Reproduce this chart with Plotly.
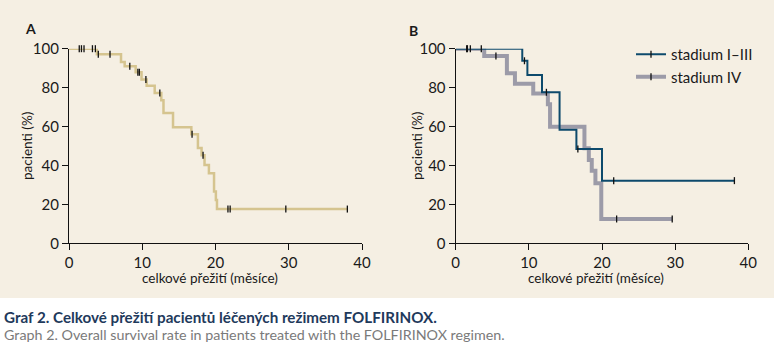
import plotly.graph_objects as go

# ---- Kaplan-Meier data (months, % surviving) ----
# Panel A: all patients
events_a_t = [3.8, 7.1, 7.6, 9.1, 9.9, 10.6, 11.7, 12.6, 12.9, 14.2, 16.7, 17.6, 18.1, 18.5, 19.1, 19.8, 20.05, 20.2]
events_a_s = [97.1, 93.2, 91.0, 87.9, 84.2, 81.0, 77.2, 73.5, 67.0, 59.6, 56.0, 49.0, 45.3, 40.3, 36.0, 26.6, 22.3, 17.6]
censor_a = [1.4, 1.7, 2.05, 3.2, 3.6, 4.0, 5.6, 8.3, 9.4, 9.6, 10.5, 12.4, 16.8, 18.3, 21.7, 22.0, 29.6, 38.0]
end_a = 38.0

# Panel B: stage I-III
events_b1_t = [9.1, 9.8, 11.8, 14.2, 16.5, 20.0]
events_b1_s = [93.8, 86.5, 77.6, 58.4, 48.5, 32.2]
censor_b1 = [1.5, 2.0, 9.4, 12.4, 16.7, 21.6, 38.1]
end_b1 = 38.1

# Panel B: stage IV
events_b2_t = [3.9, 7.0, 8.1, 10.6, 12.6, 12.9, 17.6, 18.2, 18.6, 19.1, 19.9]
events_b2_s = [96.2, 87.4, 82.0, 77.0, 71.4, 59.9, 48.8, 42.8, 37.3, 30.8, 12.5]
censor_b2 = [1.6, 3.5, 5.5, 22.0, 29.6]
end_b2 = 29.6

x_ticks = [0, 10, 20, 30, 40]
y_ticks = [0, 20, 40, 60, 80, 100]

BG = "#f5efe3"
TAN = "#d5c48f"
BLUE = "#0d4a6c"
GRAY = "#9c9ba8"
FONT = "Lato"
INK = "#1a1a1a"

W, H = 774, 344


def step_xy(times, surv, end):
    xs = [0] + list(times) + [end]
    ys = [100] + list(surv) + [surv[-1]]
    return xs, ys


def surv_at(t, times, surv):
    s = 100
    for ti, si in zip(times, surv):
        if ti <= t:
            s = si
    return s


def px_x(p):
    return p / W


def px_y(p):
    return 1 - p / H


tick_marker = dict(symbol="line-ns", size=5, line=dict(color="#111", width=1.3))

fig = go.Figure()

# panel A curve
xa, ya = step_xy(events_a_t, events_a_s, end_a)
fig.add_trace(go.Scatter(x=xa, y=ya, mode="lines", line=dict(color=TAN, width=2.5, shape="hv"),
                         xaxis="x", yaxis="y", showlegend=False, cliponaxis=False, hoverinfo="skip"))
fig.add_trace(go.Scatter(x=censor_a, y=[surv_at(t, events_a_t, events_a_s) for t in censor_a],
                         mode="markers", marker=tick_marker,
                         xaxis="x", yaxis="y", showlegend=False, cliponaxis=False, hoverinfo="skip"))

# panel B curves (stage IV first so stage I-III lies on top)
xb2, yb2 = step_xy(events_b2_t, events_b2_s, end_b2)
fig.add_trace(go.Scatter(x=xb2, y=yb2, mode="lines", line=dict(color=GRAY, width=4, shape="hv"),
                         xaxis="x2", yaxis="y2", showlegend=False, cliponaxis=False, hoverinfo="skip"))
xb1, yb1 = step_xy(events_b1_t, events_b1_s, end_b1)
fig.add_trace(go.Scatter(x=xb1, y=yb1, mode="lines", line=dict(color=BLUE, width=2, shape="hv"),
                         xaxis="x2", yaxis="y2", showlegend=False, cliponaxis=False, hoverinfo="skip"))
fig.add_trace(go.Scatter(x=censor_b2, y=[surv_at(t, events_b2_t, events_b2_s) for t in censor_b2],
                         mode="markers", marker=tick_marker,
                         xaxis="x2", yaxis="y2", showlegend=False, cliponaxis=False, hoverinfo="skip"))
fig.add_trace(go.Scatter(x=censor_b1, y=[surv_at(t, events_b1_t, events_b1_s) for t in censor_b1],
                         mode="markers", marker=tick_marker,
                         xaxis="x2", yaxis="y2", showlegend=False, cliponaxis=False, hoverinfo="skip"))

# legend entries
fig.add_trace(go.Scatter(x=[None], y=[None], mode="lines+markers", name="stadium I\u2013III",
                         line=dict(color=BLUE, width=2), marker=tick_marker,
                         xaxis="x2", yaxis="y2"))
fig.add_trace(go.Scatter(x=[None], y=[None], mode="lines+markers", name="stadium IV",
                         line=dict(color=GRAY, width=4), marker=tick_marker,
                         xaxis="x2", yaxis="y2"))

axis_common = dict(showgrid=False, zeroline=False, showline=True, linecolor="#111", linewidth=1.3,
                   ticks="outside", ticklen=6, tickwidth=1.3, tickcolor="#111", automargin=False,
                   tickfont=dict(family=FONT, size=15, color=INK))

y_dom = [px_y(243.3), px_y(48.7)]
fig.update_layout(
    width=W, height=H,
    margin=dict(l=0, r=0, t=0, b=0, pad=0, autoexpand=False),
    paper_bgcolor="white",
    plot_bgcolor="rgba(0,0,0,0)",
    font=dict(family=FONT, size=14, color=INK),
    xaxis=dict(domain=[px_x(69), px_x(362)], range=[0, 40], tickvals=x_ticks, anchor="y", **axis_common),
    yaxis=dict(domain=y_dom, range=[0, 100], tickvals=y_ticks, anchor="x", **axis_common),
    xaxis2=dict(domain=[px_x(455.7), px_x(748.3)], range=[0, 40], tickvals=x_ticks, anchor="y2", **axis_common),
    yaxis2=dict(domain=y_dom, range=[0, 100], tickvals=y_ticks, anchor="x2", **axis_common),
    legend=dict(x=px_x(631), y=px_y(38), xanchor="left", yanchor="top",
                bgcolor="rgba(0,0,0,0)", font=dict(family=FONT, size=15, color=INK),
                traceorder="normal"),
    shapes=[dict(type="rect", xref="paper", yref="paper", x0=0, x1=1, y0=px_y(298), y1=1,
                 fillcolor=BG, line=dict(width=0), layer="below")],
)

annotations = [
    dict(text="<b>A</b>", x=px_x(31), y=px_y(28), size=14),
    dict(text="<b>B</b>", x=px_x(414), y=px_y(30), size=14),
    dict(text="pacienti (%)", x=px_x(27), y=px_y(146), textangle=-90, size=13.5),
    dict(text="pacienti (%)", x=px_x(417), y=px_y(146), textangle=-90, size=13.5),
    dict(text="celkové přežití (měsíce)", x=px_x(210), y=px_y(278), size=13.5),
    dict(text="celkové přežití (měsíce)", x=px_x(596), y=px_y(278), size=13.5),
]
for a in annotations:
    size = a.pop("size")
    fig.add_annotation(xref="paper", yref="paper", showarrow=False, xanchor="center", yanchor="middle",
                       font=dict(family=FONT, size=size, color=INK), **a)

fig.add_annotation(xref="paper", yref="paper", showarrow=False, xanchor="left", yanchor="middle",
                   x=px_x(2), y=px_y(316.5),
                   text="<b>Graf 2. Celkové přežití pacientů léčených režimem FOLFIRINOX.</b>",
                   font=dict(family=FONT, size=15.2, color="#1f3a5c"))
fig.add_annotation(xref="paper", yref="paper", showarrow=False, xanchor="left", yanchor="middle",
                   x=px_x(2), y=px_y(334),
                   text="Graph 2. Overall survival rate in patients treated with the FOLFIRINOX regimen.",
                   font=dict(family=FONT, size=14.3, color="#7a7a7a"))

fig.write_html("out.html")
